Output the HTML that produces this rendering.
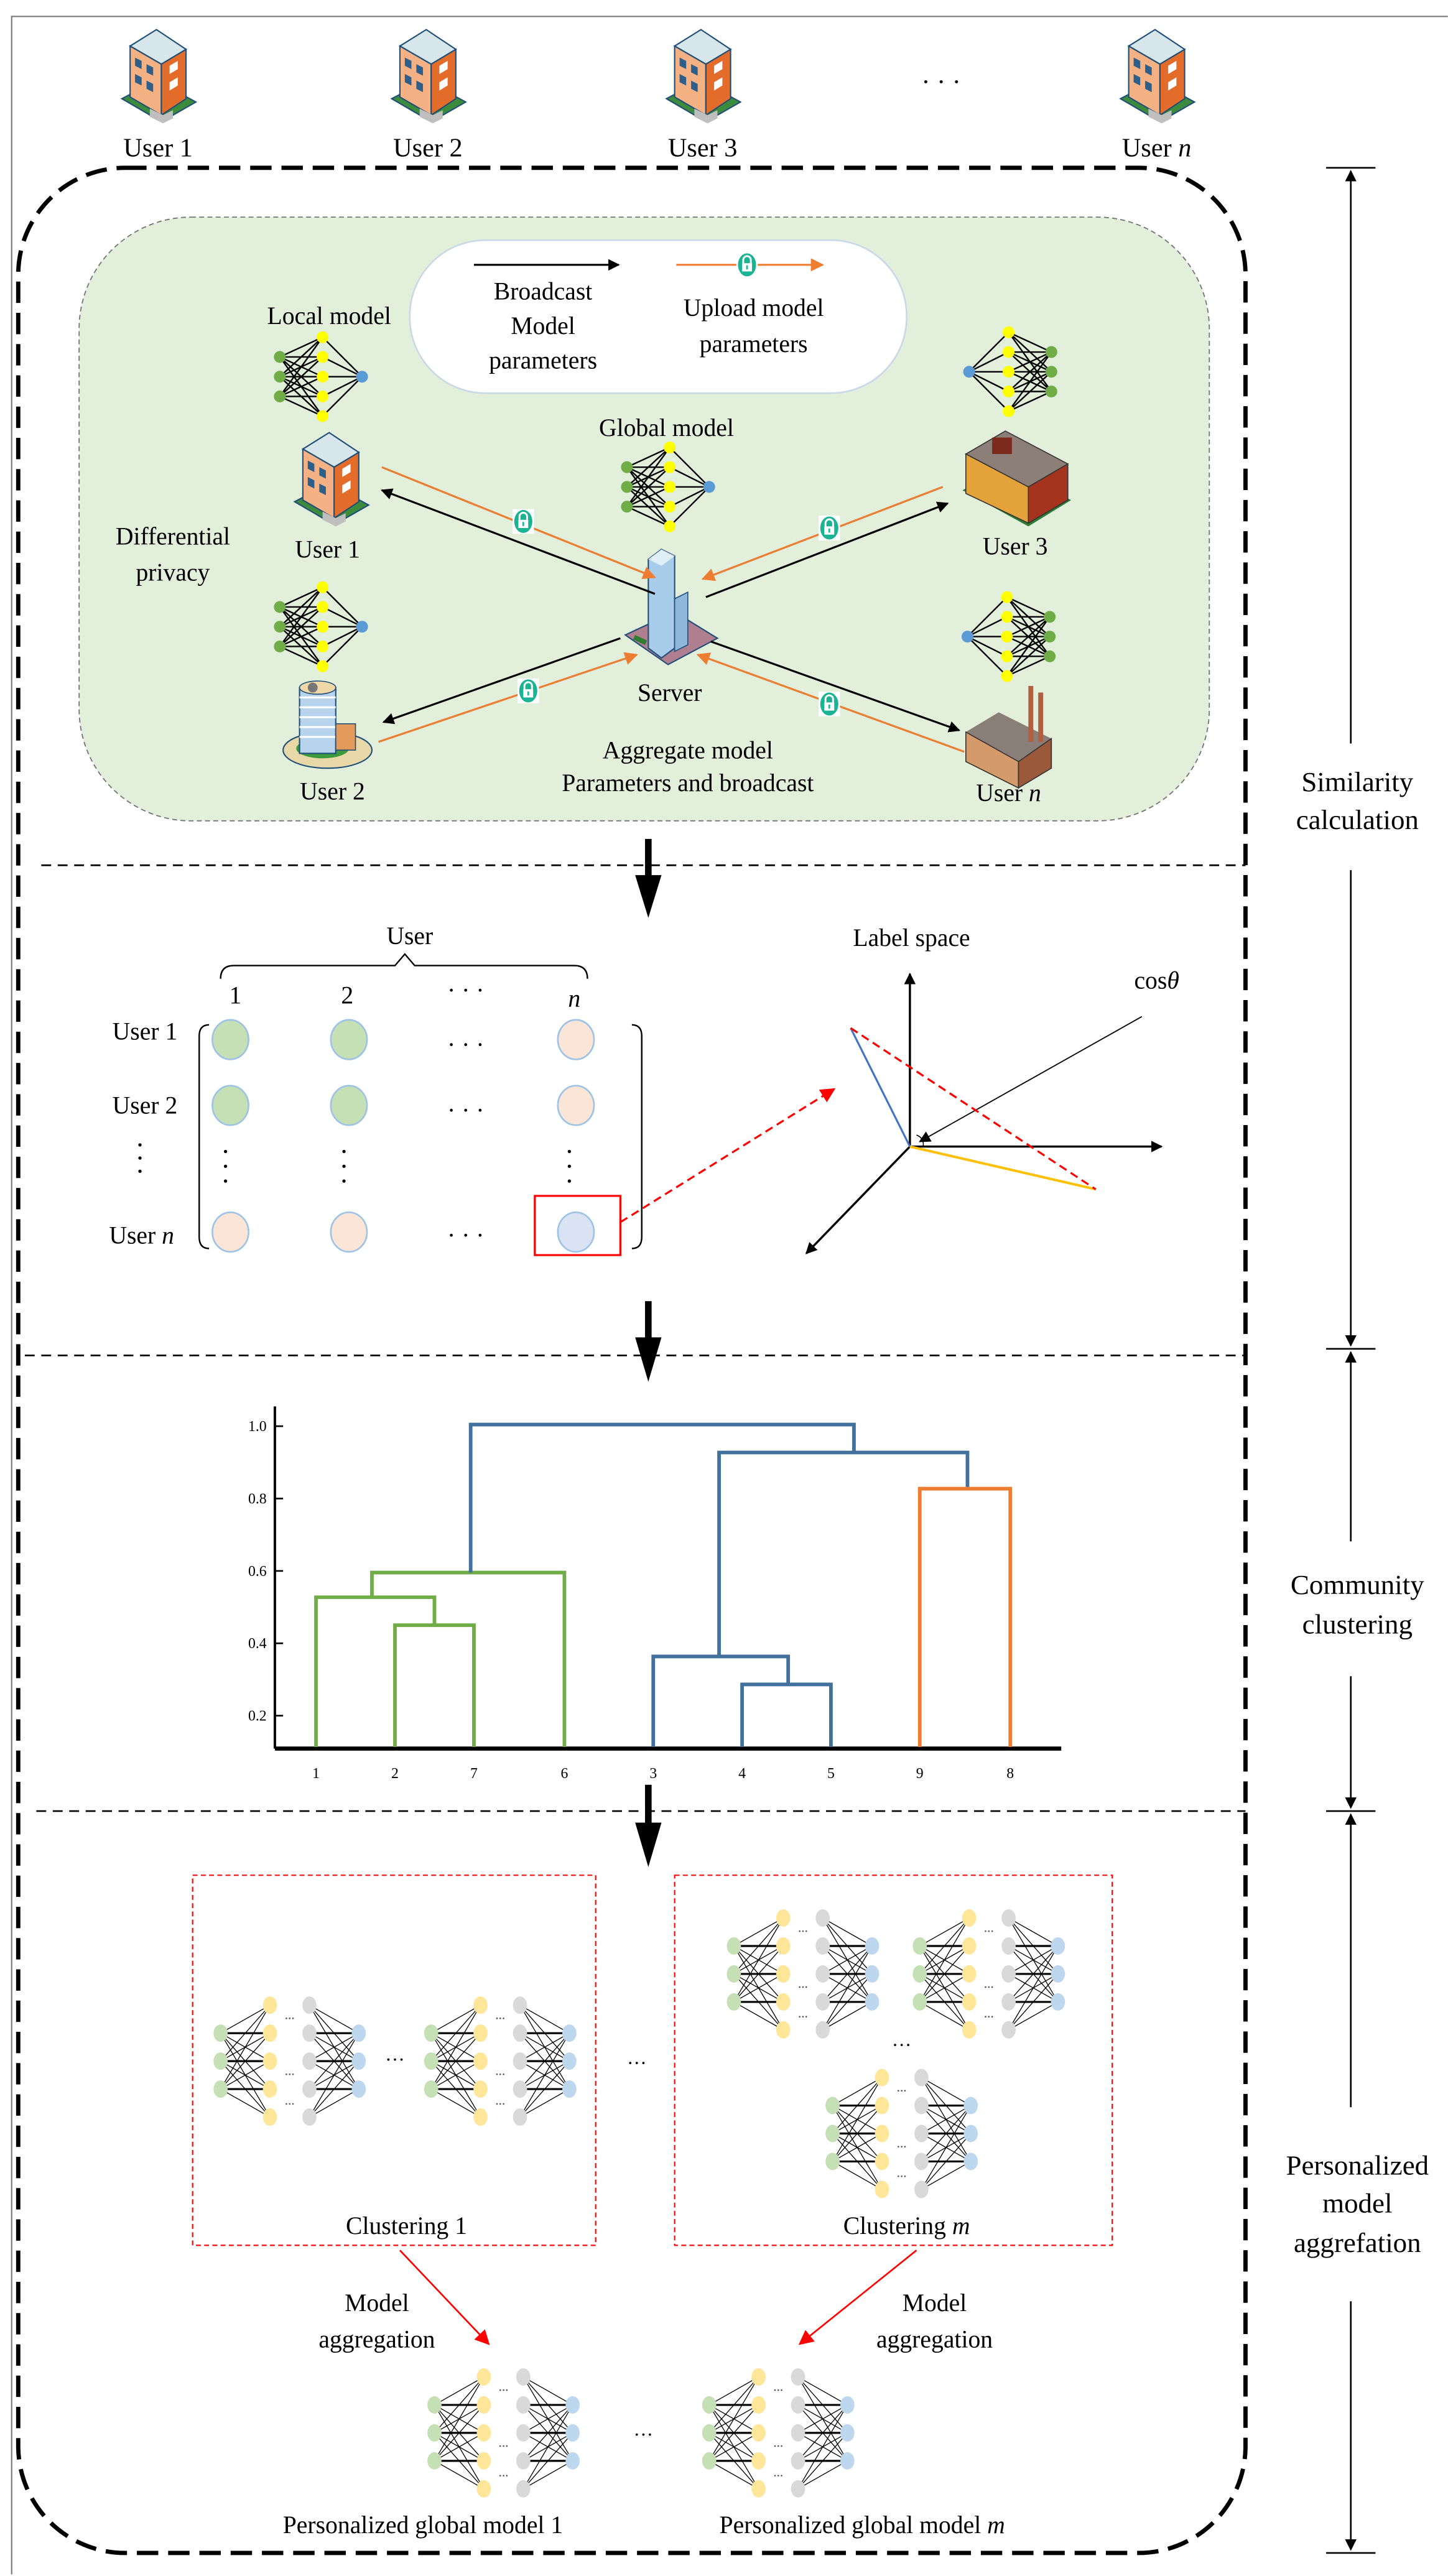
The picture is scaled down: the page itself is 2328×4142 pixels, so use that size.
<!DOCTYPE html>
<html><head><meta charset="utf-8"><style>
html,body{margin:0;padding:0;background:#fff}
svg{display:block;font-family:"Liberation Serif","Times New Roman",serif}
svg text{font-family:"Liberation Serif","Times New Roman",serif;fill:#000}
</style></head><body>
<svg width="2328" height="4142" viewBox="0 0 880 1566" xmlns="http://www.w3.org/2000/svg" font-family="Liberation Serif, Times New Roman, serif">
<defs>
<marker id="ab" viewBox="0 0 10 10" refX="9" refY="5" markerWidth="7" markerHeight="7" orient="auto-start-reverse" markerUnits="userSpaceOnUse"><path d="M0 0L10 5L0 10z" fill="#000"/></marker>
<marker id="ao" viewBox="0 0 10 10" refX="9" refY="5" markerWidth="8" markerHeight="8" orient="auto" markerUnits="userSpaceOnUse"><path d="M0 0L10 5L0 10z" fill="#ed7d31"/></marker>
<marker id="ar" viewBox="0 0 10 10" refX="9" refY="5" markerWidth="9" markerHeight="9" orient="auto" markerUnits="userSpaceOnUse"><path d="M0 0L10 5L0 10z" fill="#f00"/></marker>
<g id="nn">
<path d="M-26-12L0-24M-26-12L0-12M-26-12L0 0M-26-12L0 12M-26-12L0 24M-26 0L0-24M-26 0L0-12M-26 0L0 0M-26 0L0 12M-26 0L0 24M-26 12L0-24M-26 12L0-12M-26 12L0 0M-26 12L0 12M-26 12L0 24M0-24L24 0M0-12L24 0M0 0L24 0M0 12L24 0M0 24L24 0" stroke="#000" stroke-width="0.9" fill="none"/>
<g fill="#70ad47"><circle cx="-26" cy="-12" r="3.6"/><circle cx="-26" cy="0" r="3.6"/><circle cx="-26" cy="12" r="3.6"/></g>
<g fill="#ffff00"><circle cx="0" cy="-24" r="3.6"/><circle cx="0" cy="-12" r="3.6"/><circle cx="0" cy="0" r="3.6"/><circle cx="0" cy="12" r="3.6"/><circle cx="0" cy="24" r="3.6"/></g>
<circle cx="24" cy="0" r="3.6" fill="#5b9bd5"/>
</g>
<g id="mn">
<path d="M-42-17L-12-34M-42-17L-12-17M-42-17L-12 0M-42-17L-12 17M-42-17L-12 34M-42 0L-12-34M-42 0L-12-17M-42 0L-12 0M-42 0L-12 17M-42 0L-12 34M-42 17L-12-34M-42 17L-12-17M-42 17L-12 0M-42 17L-12 17M-42 17L-12 34M12-34L42-17M12-17L42-17M12 0L42-17M12 17L42-17M12 34L42-17M12-34L42 0M12-17L42 0M12 0L42 0M12 17L42 0M12 34L42 0M12-34L42 17M12-17L42 17M12 0L42 17M12 17L42 17M12 34L42 17" stroke="#000" stroke-width="0.5" fill="none"/>
<path d="M-42-17L-12-17M-42 0L-12 0M-42 17L-12 17M12-17L42-17M12 0L42 0M12 17L42 17" stroke="#000" stroke-width="1.2"/>
<g fill="#c5e0b4"><ellipse cx="-42" cy="-17" rx="4.3" ry="5.3"/><ellipse cx="-42" cy="0" rx="4.3" ry="5.3"/><ellipse cx="-42" cy="17" rx="4.3" ry="5.3"/></g>
<g fill="#ffe699"><ellipse cx="-12" cy="-34" rx="4.3" ry="5.3"/><ellipse cx="-12" cy="-17" rx="4.3" ry="5.3"/><ellipse cx="-12" cy="0" rx="4.3" ry="5.3"/><ellipse cx="-12" cy="17" rx="4.3" ry="5.3"/><ellipse cx="-12" cy="34" rx="4.3" ry="5.3"/></g>
<g fill="#d9d9d9"><ellipse cx="12" cy="-34" rx="4.3" ry="5.3"/><ellipse cx="12" cy="-17" rx="4.3" ry="5.3"/><ellipse cx="12" cy="0" rx="4.3" ry="5.3"/><ellipse cx="12" cy="17" rx="4.3" ry="5.3"/><ellipse cx="12" cy="34" rx="4.3" ry="5.3"/></g>
<g fill="#bdd7ee"><ellipse cx="42" cy="-17" rx="4.3" ry="5.3"/><ellipse cx="42" cy="0" rx="4.3" ry="5.3"/><ellipse cx="42" cy="17" rx="4.3" ry="5.3"/></g>
<g fill="#555"><circle cx="-2" cy="-26" r="0.5"/><circle cx="0" cy="-26" r="0.5"/><circle cx="2" cy="-26" r="0.5"/><circle cx="-2" cy="8" r="0.5"/><circle cx="0" cy="8" r="0.5"/><circle cx="2" cy="8" r="0.5"/><circle cx="-2" cy="26" r="0.5"/><circle cx="0" cy="26" r="0.5"/><circle cx="2" cy="26" r="0.5"/></g>
</g>
<g id="bld">
<path d="M3 42L27 56L48 44L24 31z" fill="#3c8a3c" stroke="#1f4e79" stroke-width="0.8"/>
<path d="M8 10L24 0L42 12L27 21z" fill="#d6e6ea" stroke="#1f4e79" stroke-width="0.8"/>
<path d="M8 10L27 21L27 52L8 41z" fill="#f4b183" stroke="#1f4e79" stroke-width="0.8"/>
<path d="M27 21L42 12L42 42L27 52z" fill="#e46c2a" stroke="#1f4e79" stroke-width="0.8"/>
<g fill="#2e5f8a"><path d="M11 17l4 2v5l-4-2zM18 21l4 2v5l-4-2zM11 27l4 2v5l-4-2zM18 31l4 2v5l-4-2z"/><path d="M32 22l5-3v5l-5 3zM32 32l5-3v5l-5 3z" fill="#fff"/></g>
<path d="M20 48l8 4l6-3v5l-6 3l-8-4z" fill="#bfbfbf"/>
</g>
<g id="lock">
<rect x="-6.5" y="-7.5" width="13" height="15" fill="#fff"/>
<ellipse cx="0" cy="0" rx="5.5" ry="7" fill="#1ab394"/>
<path d="M-2.3-1V-3a2.3 2.3 0 0 1 4.6 0V-1" stroke="#fff" stroke-width="1.1" fill="none"/>
<rect x="-3" y="-1" width="6" height="5" fill="#fff"/>
<rect x="-0.5" y="0.3" width="1" height="2.5" fill="#1ab394"/>
</g>
</defs>

<path d="M7 1565V10H880" stroke="#777" stroke-width="0.8" fill="none"/>

<use href="#bld" x="71" y="18"/><use href="#bld" x="235" y="18"/><use href="#bld" x="402" y="18"/><use href="#bld" x="678" y="18"/>
<g font-size="16" text-anchor="middle"><text x="96" y="95">User 1</text><text x="260" y="95">User 2</text><text x="427" y="95">User 3</text><text x="703" y="95">User <tspan font-style="italic">n</tspan></text></g>
<text x="572" y="55" font-size="16" text-anchor="middle">· · ·</text>

<rect x="11" y="102" width="746" height="1450" rx="65" fill="none" stroke="#000" stroke-width="2.6" stroke-dasharray="13 6"/>

<rect x="48" y="132" width="687" height="367" rx="68" fill="#e2efda" stroke="#777" stroke-width="0.7" stroke-dasharray="3 2"/>
<rect x="249" y="146" width="302" height="93" rx="46" fill="#fff" stroke="#c9d9e8" stroke-width="1"/>
<line x1="288" y1="161" x2="376" y2="161" stroke="#000" stroke-width="1.2" marker-end="url(#ab)"/>
<line x1="411" y1="161" x2="500" y2="161" stroke="#ed7d31" stroke-width="1.2" marker-end="url(#ao)"/>
<use href="#lock" x="454" y="161"/>
<g font-size="15" text-anchor="middle">
<text x="330" y="182">Broadcast</text><text x="330" y="203">Model</text><text x="330" y="224">parameters</text>
<text x="458" y="192">Upload model</text><text x="458" y="214">parameters</text>
<text x="200" y="197">Local model</text>
<text x="405" y="265">Global model</text>
<text x="105" y="331">Differential</text><text x="105" y="353">privacy</text>
<text x="199" y="339">User 1</text><text x="617" y="337">User 3</text>
<text x="202" y="486">User 2</text><text x="613" y="487">User <tspan font-style="italic">n</tspan></text>
<text x="407" y="426">Server</text>
<text x="418" y="461">Aggregate model</text><text x="418" y="481">Parameters and broadcast</text>
</g>
<use href="#nn" x="196" y="229"/>
<use href="#nn" x="407" y="296"/>
<use href="#nn" x="196" y="381"/>
<use href="#nn" transform="translate(613 226) scale(-1 1)"/>
<use href="#nn" transform="translate(612 387) scale(-1 1)"/>
<use href="#bld" x="176" y="263"/>
<g transform="translate(585 262)"><path d="M0 36L40 58L66 42L26 22z" fill="#2e7d32"/><path d="M2 14L26 0L64 20L40 34z" fill="#8b7f77" stroke="#333" stroke-width="0.6"/><path d="M2 14L40 34L40 56L2 38z" fill="#e4a33a" stroke="#333" stroke-width="0.6"/><path d="M40 34L64 20L64 42L40 56z" fill="#a5341e" stroke="#333" stroke-width="0.6"/><rect x="18" y="4" width="12" height="10" fill="#7a2a1a"/></g>
<g transform="translate(172 410)"><ellipse cx="27" cy="46" rx="27" ry="11" fill="#e8d8a8" stroke="#1f4e79" stroke-width="0.8"/><ellipse cx="24" cy="45" rx="16" ry="6" fill="#3c9a3c"/><rect x="10" y="8" width="22" height="40" fill="#b8d4ec" stroke="#1f4e79" stroke-width="0.8"/><g stroke="#fff" stroke-width="1.2"><path d="M10 14h22M10 20h22M10 26h22M10 32h22M10 38h22"/></g><ellipse cx="21" cy="8" rx="11" ry="4" fill="#f0d9a8" stroke="#1f4e79" stroke-width="0.6"/><circle cx="18" cy="8" r="3" fill="#777"/><rect x="32" y="30" width="12" height="16" fill="#e49a5a" stroke="#1f4e79" stroke-width="0.6"/></g>
<g transform="translate(585 415)"><path d="M2 30L22 18L54 34L34 48z" fill="#8a7f78"/><path d="M2 30L34 48L34 64L2 48z" fill="#d49a6a" stroke="#333" stroke-width="0.6"/><path d="M34 48L54 34L54 52L34 64z" fill="#9a5a3a" stroke="#333" stroke-width="0.6"/><rect x="40" y="2" width="3" height="34" fill="#b06040"/><rect x="46" y="6" width="3" height="30" fill="#b06040"/></g>
<g transform="translate(380 334)"><path d="M0 52L30 38L56 54L26 70z" fill="#b07f8f" stroke="#1f4e79" stroke-width="0.8"/><path d="M14 6L22 0L30 4L30 60L22 66L14 60z" fill="#a8cdea" stroke="#1f4e79" stroke-width="0.8"/><path d="M22 0L30 4L22 10L14 6z" fill="#e0eef8"/><path d="M30 30L38 26L38 58L30 62z" fill="#8fb7db" stroke="#1f4e79" stroke-width="0.6"/><rect x="6" y="52" width="8" height="3" fill="#2e7d32" transform="rotate(25 6 52)"/></g>

<g stroke-width="1.2" fill="none">
<line x1="398" y1="361" x2="232" y2="298" stroke="#000" marker-end="url(#ab)"/>
<line x1="232" y1="284" x2="398" y2="351" stroke="#ed7d31" marker-end="url(#ao)"/>
<line x1="429" y1="363" x2="576" y2="306" stroke="#000" marker-end="url(#ab)"/>
<line x1="573" y1="296" x2="427" y2="352" stroke="#ed7d31" marker-end="url(#ao)"/>
<line x1="377" y1="388" x2="233" y2="439" stroke="#000" marker-end="url(#ab)"/>
<line x1="230" y1="451" x2="387" y2="398" stroke="#ed7d31" marker-end="url(#ao)"/>
<line x1="432" y1="390" x2="583" y2="444" stroke="#000" marker-end="url(#ab)"/>
<line x1="586" y1="457" x2="424" y2="398" stroke="#ed7d31" marker-end="url(#ao)"/>
</g>
<use href="#lock" x="318" y="317"/><use href="#lock" x="504" y="321"/><use href="#lock" x="321" y="420"/><use href="#lock" x="504" y="428"/>

<g stroke="#000" stroke-width="1" stroke-dasharray="6 4"><line x1="25" y1="526" x2="757" y2="526"/><line x1="15" y1="824" x2="757" y2="824"/><line x1="22" y1="1101" x2="757" y2="1101"/></g>
<g fill="#000"><rect x="392" y="510" width="4" height="26"/><path d="M386 532L402 532L394 558z"/>
<rect x="392" y="791" width="4" height="26"/><path d="M386 813L402 813L394 840z"/>
<rect x="392" y="1085" width="4" height="26"/><path d="M386 1108L402 1108L394 1135z"/></g>

<g stroke="#000" stroke-width="1" fill="none">
<line x1="806" y1="102" x2="836" y2="102"/><line x1="821" y1="452" x2="821" y2="104" marker-end="url(#ab)"/>
<line x1="821" y1="529" x2="821" y2="818" marker-end="url(#ab)"/>
<line x1="806" y1="820" x2="836" y2="820"/><line x1="821" y1="937" x2="821" y2="822" marker-end="url(#ab)"/>
<line x1="821" y1="1019" x2="821" y2="1099" marker-end="url(#ab)"/>
<line x1="806" y1="1101" x2="836" y2="1101"/><line x1="821" y1="1281" x2="821" y2="1103" marker-end="url(#ab)"/>
<line x1="821" y1="1399" x2="821" y2="1550" marker-end="url(#ab)"/>
<line x1="806" y1="1552" x2="836" y2="1552"/>
</g>
<g font-size="17" text-anchor="middle">
<text x="825" y="481">Similarity</text><text x="825" y="504">calculation</text>
<text x="825" y="969">Community</text><text x="825" y="993">clustering</text>
<text x="825" y="1322">Personalized</text><text x="825" y="1345">model</text><text x="825" y="1369">aggrefation</text>
</g>

<g font-size="15" text-anchor="middle">
<text x="249" y="574">User</text>
<text x="143" y="610">1</text><text x="211" y="610">2</text><text x="283" y="607">· · ·</text><text x="349" y="612" font-style="italic">n</text>
<text x="88" y="632">User 1</text><text x="88" y="677">User 2</text><text x="86" y="756">User <tspan font-style="italic">n</tspan></text>
<text x="283" y="640">· · ·</text><text x="283" y="680">· · ·</text><text x="283" y="756">· · ·</text>
</g>
<path d="M134 595Q134 587 142 587H240L246 580L252 587H349Q357 587 357 595" stroke="#000" stroke-width="0.9" fill="none"/>
<g fill="#000"><circle cx="85" cy="696" r="1"/><circle cx="85" cy="704" r="1"/><circle cx="85" cy="712" r="1"/>
<circle cx="137" cy="700" r="1"/><circle cx="137" cy="709" r="1"/><circle cx="137" cy="718" r="1"/>
<circle cx="209" cy="700" r="1"/><circle cx="209" cy="709" r="1"/><circle cx="209" cy="718" r="1"/>
<circle cx="346" cy="700" r="1"/><circle cx="346" cy="709" r="1"/><circle cx="346" cy="718" r="1"/></g>
<g stroke="#000" stroke-width="0.9" fill="none"><path d="M127 623Q121 623 121 630V752Q121 759 127 759"/><path d="M384 623Q390 623 390 630V752Q390 759 384 759"/></g>
<g stroke="#9dc3e6" stroke-width="1">
<ellipse cx="140" cy="632" rx="11" ry="12" fill="#c5e0b4"/><ellipse cx="212" cy="632" rx="11" ry="12" fill="#c5e0b4"/><ellipse cx="350" cy="632" rx="11" ry="12" fill="#fbe5d6"/>
<ellipse cx="140" cy="672" rx="11" ry="12" fill="#c5e0b4"/><ellipse cx="212" cy="672" rx="11" ry="12" fill="#c5e0b4"/><ellipse cx="350" cy="672" rx="11" ry="12" fill="#fbe5d6"/>
<ellipse cx="140" cy="749" rx="11" ry="12" fill="#fbe5d6"/><ellipse cx="212" cy="749" rx="11" ry="12" fill="#fbe5d6"/><ellipse cx="350" cy="749" rx="11" ry="12" fill="#dae3f3"/>
</g>
<rect x="325" y="727" width="52" height="36" fill="none" stroke="#f00" stroke-width="1.2"/>
<line x1="377" y1="743" x2="507" y2="662" stroke="#f00" stroke-width="1.2" stroke-dasharray="5 3" marker-end="url(#ar)"/>

<text x="554" y="575" font-size="15" text-anchor="middle">Label space</text>
<text x="703" y="601" font-size="15" text-anchor="middle">cos<tspan font-style="italic">θ</tspan></text>
<g stroke="#000" stroke-width="1.3" fill="none">
<line x1="553" y1="697" x2="553" y2="592" marker-end="url(#ab)"/>
<line x1="553" y1="697" x2="706" y2="697" marker-end="url(#ab)"/>
<line x1="553" y1="697" x2="490" y2="762" marker-end="url(#ab)"/>
<line x1="694" y1="618" x2="559" y2="694" stroke-width="0.7" marker-end="url(#ab)"/>
<path d="M557 690Q562 692 561 697" stroke-width="0.6"/>
</g>
<line x1="517" y1="625" x2="553" y2="697" stroke="#4472c4" stroke-width="1.2"/>
<line x1="553" y1="697" x2="666" y2="723" stroke="#ffc000" stroke-width="1.5"/>
<line x1="517" y1="625" x2="666" y2="723" stroke="#f00" stroke-width="1.2" stroke-dasharray="5 3"/>

<line x1="167" y1="855" x2="167" y2="1063" stroke="#000" stroke-width="1.5"/>
<line x1="167" y1="1063" x2="645" y2="1063" stroke="#000" stroke-width="2.5"/>
<g stroke="#000" stroke-width="1"><line x1="167" y1="867" x2="172" y2="867"/><line x1="167" y1="911" x2="172" y2="911"/><line x1="167" y1="955" x2="172" y2="955"/><line x1="167" y1="999" x2="172" y2="999"/><line x1="167" y1="1043" x2="172" y2="1043"/></g>
<g font-size="9" text-anchor="end"><text x="162" y="870">1.0</text><text x="162" y="914">0.8</text><text x="162" y="958">0.6</text><text x="162" y="1002">0.4</text><text x="162" y="1046">0.2</text></g>
<g font-size="9" text-anchor="middle"><text x="192" y="1081">1</text><text x="240" y="1081">2</text><text x="288" y="1081">7</text><text x="343" y="1081">6</text><text x="397" y="1081">3</text><text x="451" y="1081">4</text><text x="505" y="1081">5</text><text x="559" y="1081">9</text><text x="614" y="1081">8</text></g>
<g fill="none" stroke-width="2.2">
<path d="M240 1062V988H288V1062M192 1062V971H264V988M226 971V956H343V1062" stroke="#70ad47"/>
<path d="M286 956V866H519V883M437 1007V883H588V905M451 1062V1024H505V1062M397 1062V1007H479V1024" stroke="#41719c"/>
<path d="M559 1062V905H614V1062" stroke="#ed7d31"/>
</g>

<g fill="none" stroke="#f00" stroke-width="0.8" stroke-dasharray="3 2"><rect x="117" y="1140" width="245" height="225"/><rect x="410" y="1140" width="266" height="225"/></g>
<use href="#mn" x="176" y="1253"/><use href="#mn" x="304" y="1253"/>
<use href="#mn" x="488" y="1200"/><use href="#mn" x="601" y="1200"/><use href="#mn" x="548" y="1297"/>
<use href="#mn" x="306" y="1479"/><use href="#mn" x="473" y="1479"/>
<g font-size="12" text-anchor="middle"><text x="240" y="1256">···</text><text x="387" y="1258">···</text><text x="548" y="1247">···</text><text x="391" y="1484">···</text></g>
<g font-size="15" text-anchor="middle">
<text x="247" y="1358">Clustering 1</text><text x="551" y="1358">Clustering <tspan font-style="italic">m</tspan></text>
<text x="229" y="1405">Model</text><text x="229" y="1427">aggregation</text>
<text x="568" y="1405">Model</text><text x="568" y="1427">aggregation</text>
<text x="257" y="1540">Personalized global model 1</text><text x="524" y="1540">Personalized global model <tspan font-style="italic">m</tspan></text>
</g>
<line x1="243" y1="1368" x2="297" y2="1425" stroke="#f00" stroke-width="1" marker-end="url(#ar)"/>
<line x1="557" y1="1368" x2="486" y2="1425" stroke="#f00" stroke-width="1" marker-end="url(#ar)"/>
</svg>
</body></html>
